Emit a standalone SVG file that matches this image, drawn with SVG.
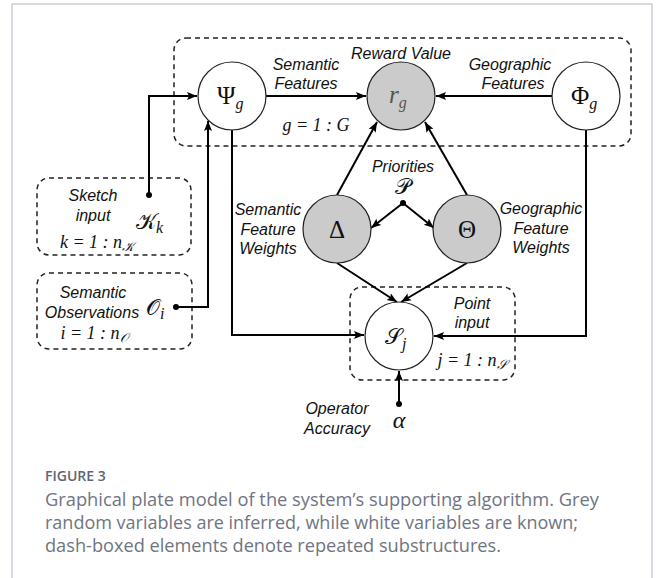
<svg xmlns="http://www.w3.org/2000/svg" width="656" height="578" viewBox="0 0 656 578">
<defs>
<style>
.frame{fill:#fff;stroke:#c9cdd6;stroke-width:1.5}
.plate{fill:none;stroke:#222;stroke-width:1.5;stroke-dasharray:5 4}
.node{stroke:#222;stroke-width:1.2}
.white{fill:#fff}
.grey{fill:#cbcbcb}
.conn{fill:none;stroke:#000;stroke-width:2}
.lbl{font-family:"Liberation Sans",Arial,sans-serif;font-style:italic;font-size:16px;fill:#111;text-anchor:middle}
.math{font-family:"Liberation Serif","DejaVu Serif",serif;font-style:italic;font-size:18px;fill:#111}
.sym{font-family:"Liberation Serif","DejaVu Serif",serif;font-size:25px;fill:#111}
.cal{font-family:"DejaVu Serif","DejaVu Sans",serif;font-size:22px;fill:#111}
.sub{font-family:"Liberation Serif","DejaVu Serif",serif;font-style:italic;font-size:16px}
.cap{font-family:"Open Sans","Liberation Sans",sans-serif;font-size:17.5px;fill:#6f7482}
.fig{font-family:"Open Sans","Liberation Sans",sans-serif;font-size:14px;font-weight:600;fill:#5e6573}
</style>
<marker id="arr" markerUnits="userSpaceOnUse" markerWidth="10" markerHeight="10" viewBox="0 0 10 10" refX="10" refY="5" orient="auto">
<path d="M0,1 L10,5 L0,9 L2,5 Z" fill="#000"/>
</marker>
</defs>
<rect class="frame" x="12" y="4" width="640" height="590"/>

<g id="plates">
<rect id="plate-g" class="plate" x="174" y="38" width="457" height="108" rx="12"/>
<rect id="plate-k" class="plate" x="37" y="178" width="154" height="77" rx="12"/>
<rect id="plate-i" class="plate" x="37" y="273" width="155" height="76" rx="12"/>
<rect id="plate-j" class="plate" x="350" y="287" width="165" height="93" rx="12"/>
</g>

<g id="connectors">
<polyline class="conn" points="149,195 149,96 197,96" marker-end="url(#arr)"/>
<polyline class="conn" points="176,307 208,307 208,121" marker-end="url(#arr)"/>
<polyline class="conn" points="232,130 232,335 364,335" marker-end="url(#arr)"/>
<polyline class="conn" points="586,130 586,336 434,336" marker-end="url(#arr)"/>
<line class="conn" x1="266" y1="96" x2="366" y2="96" marker-end="url(#arr)"/>
<line class="conn" x1="552" y1="96" x2="436" y2="96" marker-end="url(#arr)"/>
<line class="conn" x1="337" y1="195" x2="377" y2="122" marker-end="url(#arr)"/>
<line class="conn" x1="467" y1="195" x2="425" y2="122" marker-end="url(#arr)"/>
<line class="conn" x1="403" y1="203" x2="371" y2="228" marker-end="url(#arr)"/>
<line class="conn" x1="403" y1="203" x2="434" y2="228" marker-end="url(#arr)"/>
<line class="conn" x1="337" y1="263" x2="397" y2="302" marker-end="url(#arr)"/>
<line class="conn" x1="467" y1="263" x2="401" y2="302" marker-end="url(#arr)"/>
<line class="conn" x1="399" y1="404" x2="399" y2="371" marker-end="url(#arr)"/>
<circle cx="149" cy="195" r="3"/>
<circle cx="176" cy="307" r="3"/>
<circle cx="403" cy="203" r="3"/>
<circle cx="399" cy="404" r="3"/>
</g>

<g id="psi">
<circle class="node white" cx="232" cy="96" r="34"/>
<text class="sym" x="217" y="104">Ψ<tspan class="sub" dy="5">g</tspan></text>
</g>
<g id="r">
<circle class="node grey" cx="401" cy="96" r="34"/>
<text class="math" x="389" y="103" style="font-size:25px;fill:#555">r<tspan class="sub" dy="5">g</tspan></text>
</g>
<g id="phi">
<circle class="node white" cx="586" cy="96" r="34"/>
<text class="sym" x="571" y="104">Φ<tspan class="sub" dy="5">g</tspan></text>
</g>
<g id="delta">
<circle class="node grey" cx="337" cy="229" r="34"/>
<text class="sym" x="337" y="238" text-anchor="middle">Δ</text>
</g>
<g id="theta">
<circle class="node grey" cx="467" cy="229" r="34"/>
<text class="sym" x="467" y="238" text-anchor="middle">Θ</text>
</g>
<g id="s">
<circle class="node white" cx="399" cy="336" r="34"/>
<text class="cal" x="385" y="344">𝒮<tspan class="sub" dy="5">j</tspan></text>
</g>
<g id="k">
<text class="cal" x="136" y="229">𝒦<tspan class="sub" dy="4">k</tspan></text>
</g>
<g id="o">
<text class="cal" x="146" y="315">𝒪<tspan class="sub" dy="4">i</tspan></text>
</g>
<g id="p">
<text class="cal" x="403" y="194" text-anchor="middle">𝒫</text>
</g>
<g id="alpha">
<text class="math" x="399" y="428" text-anchor="middle" style="font-size:24px">α</text>
</g>

<g id="labels">
<text class="lbl" x="401" y="59">Reward Value</text>
<text class="lbl" x="306" y="70">Semantic</text>
<text class="lbl" x="306" y="89">Features</text>
<text class="lbl" x="510" y="70">Geographic</text>
<text class="lbl" x="513" y="89">Features</text>
<text class="math" x="316" y="131" text-anchor="middle">g = 1 : G</text>
<text class="lbl" x="403" y="172">Priorities</text>
<text class="lbl" x="268" y="215">Semantic</text>
<text class="lbl" x="268" y="235">Feature</text>
<text class="lbl" x="268" y="254">Weights</text>
<text class="lbl" x="541" y="214">Geographic</text>
<text class="lbl" x="541" y="234">Feature</text>
<text class="lbl" x="541" y="253">Weights</text>
<text class="lbl" x="93" y="201">Sketch</text>
<text class="lbl" x="93" y="221">input</text>
<text class="math" x="97" y="248" text-anchor="middle">k = 1 : n<tspan style="font-size:13px" dy="3">𝒦</tspan></text>
<text class="lbl" x="93" y="298">Semantic</text>
<text class="lbl" x="92" y="318">Observations</text>
<text class="math" x="94" y="339" text-anchor="middle">i = 1 : n<tspan style="font-size:13px" dy="3">𝒪</tspan></text>
<text class="lbl" x="472" y="309">Point</text>
<text class="lbl" x="472" y="328">input</text>
<text class="math" x="472" y="366" text-anchor="middle">j = 1 : n<tspan style="font-size:13px" dy="3">𝒮</tspan></text>
<text class="lbl" x="337" y="414">Operator</text>
<text class="lbl" x="337" y="434">Accuracy</text>
</g>

<g id="caption">
<text class="fig" x="45" y="481">FIGURE 3</text>
<text class="cap" x="45" y="506" textLength="554" lengthAdjust="spacingAndGlyphs">Graphical plate model of the system’s supporting algorithm. Grey</text>
<text class="cap" x="45" y="529" textLength="533" lengthAdjust="spacingAndGlyphs">random variables are inferred, while white variables are known;</text>
<text class="cap" x="45" y="552" textLength="456" lengthAdjust="spacingAndGlyphs">dash-boxed elements denote repeated substructures.</text>
</g>
</svg>
